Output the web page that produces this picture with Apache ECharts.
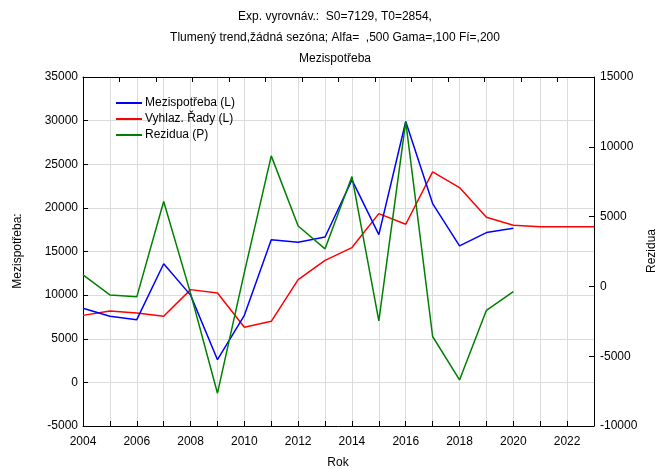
<!DOCTYPE html>
<html>
<head>
<meta charset="utf-8">
<script src="https://cdn.jsdelivr.net/npm/echarts@6/dist/echarts.min.js"></script>
<style>
  html, body { margin: 0; padding: 0; background: #fff; }
  #chart { width: 670px; height: 469px; }
</style>
</head>
<body>
<div id="chart"></div>
<script>
// roky a hodnoty
const years = [2004, 2005, 2006, 2007, 2008, 2009, 2010, 2011, 2012, 2013, 2014, 2015, 2016, 2017, 2018, 2019, 2020, 2021, 2022, 2023]
const mezispotreba = [8500, 7570, 7190, 13600, 10000, 2600, 7680, 16360, 16050, 16660, 23200, 16930, 29900, 20490, 15640, 17170, 17660]
const vyhlazene = [7680, 8180, 7950, 7570, 10630, 10240, 6310, 7000, 11780, 13990, 15450, 19340, 18120, 24120, 22330, 18920, 18000, 17850, 17850, 17830]
const rezidua = [820, -610, -750, 6080, -500, -7650, 1000, 9350, 4330, 2690, 7870, -2470, 11800, -3590, -6700, -1710, -370]

const leftTicks = [-5000, 0, 5000, 10000, 15000, 20000, 25000, 30000, 35000]
const rightTicks = [-10000, -5000, 0, 5000, 10000, 15000]

const font = 'Liberation Sans, Arial, sans-serif'

function pairs(vals) {
  return vals.map((v, i) => [years[i], v])
}

const chart = echarts.init(document.getElementById('chart'), null, { renderer: 'canvas' })

const axisLine = { show: true, onZero: false, lineStyle: { color: '#000', width: 1 } }
const tick = { show: true, inside: true, length: 5, lineStyle: { color: '#000' } }
const label = { color: '#000', fontSize: 12, fontFamily: font, formatter: v => String(v) }

chart.setOption({
  animation: false,
  backgroundColor: '#fff',
  textStyle: { fontFamily: font },
  grid: { left: 83, right: 76, top: 77, bottom: 43, containLabel: false },
  graphic: [
    { type: 'text', left: 'center', top: 11, style: { text: 'Exp. vyrovnáv.:  S0=7129, T0=2854,', fontSize: 12, fontFamily: font, fill: '#000' } },
    { type: 'text', left: 'center', top: 32, style: { text: 'Tlumený trend,žádná sezóna; Alfa=  ,500 Gama=,100 Fí=,200', fontSize: 12, fontFamily: font, fill: '#000' } },
    { type: 'text', left: 'center', top: 53, style: { text: 'Mezispotřeba', fontSize: 12, fontFamily: font, fill: '#000' } },
    { type: 'text', x: 338, y: 463, style: { text: 'Rok', fontSize: 12, fontFamily: font, fill: '#000', align: 'center', verticalAlign: 'middle' } },
    { type: 'text', x: 18, y: 251, rotation: Math.PI / 2, style: { text: 'Mezispotřeba:', fontSize: 12, fontFamily: font, fill: '#000', align: 'center', verticalAlign: 'middle' } },
    { type: 'text', x: 652, y: 251, rotation: Math.PI / 2, style: { text: 'Rezidua', fontSize: 12, fontFamily: font, fill: '#000', align: 'center', verticalAlign: 'middle' } }
  ],
  legend: {
    orient: 'vertical',
    left: 111,
    top: 92,
    itemWidth: 26,
    itemHeight: 2,
    itemGap: 4,
    icon: 'rect',
    textStyle: { fontSize: 12, fontFamily: font, color: '#000', padding: [0, 0, 0, -2] },
    data: ['Mezispotřeba (L)', 'Vyhlaz. Řady (L)', 'Rezidua (P)']
  },
  xAxis: [
    {
      type: 'value',
      min: 2004,
      max: 2023,
      interval: 1,
      axisLine: axisLine,
      axisTick: tick,
      axisLabel: Object.assign({}, label, {
        margin: 10,
        formatter: v => (v % 2 === 0 && v < 2023 ? String(v) : '')
      }),
      splitLine: { show: true, lineStyle: { color: '#dcdcdc', width: 1 } }
    },
    {
      // horní okraj rámečku se svými značkami
      type: 'value',
      position: 'top',
      min: 0,
      max: 14,
      interval: 1,
      axisLine: axisLine,
      axisTick: tick,
      axisLabel: { show: false },
      splitLine: { show: false }
    }
  ],
  yAxis: [
    {
      type: 'value',
      min: leftTicks[0],
      max: leftTicks[leftTicks.length - 1],
      interval: 5000,
      axisLine: axisLine,
      axisTick: tick,
      axisLabel: Object.assign({}, label, { margin: 5 }),
      splitLine: { show: true, lineStyle: { color: '#dcdcdc', width: 1 } }
    },
    {
      type: 'value',
      position: 'right',
      min: rightTicks[0],
      max: rightTicks[rightTicks.length - 1],
      interval: 5000,
      axisLine: axisLine,
      axisTick: tick,
      axisLabel: Object.assign({}, label, { margin: 6 }),
      splitLine: { show: false }
    }
  ],
  series: [
    {
      name: 'Mezispotřeba (L)',
      type: 'line',
      yAxisIndex: 0,
      data: pairs(mezispotreba),
      showSymbol: false,
      lineStyle: { color: '#0000ff', width: 1.5 },
      itemStyle: { color: '#0000ff' },
      z: 3
    },
    {
      name: 'Vyhlaz. Řady (L)',
      type: 'line',
      yAxisIndex: 0,
      data: pairs(vyhlazene),
      showSymbol: false,
      lineStyle: { color: '#ff0000', width: 1.5 },
      itemStyle: { color: '#ff0000' },
      z: 2
    },
    {
      name: 'Rezidua (P)',
      type: 'line',
      yAxisIndex: 1,
      data: pairs(rezidua),
      showSymbol: false,
      lineStyle: { color: '#008000', width: 1.5 },
      itemStyle: { color: '#008000' },
      z: 4
    }
  ]
})
</script>
</body>
</html>
